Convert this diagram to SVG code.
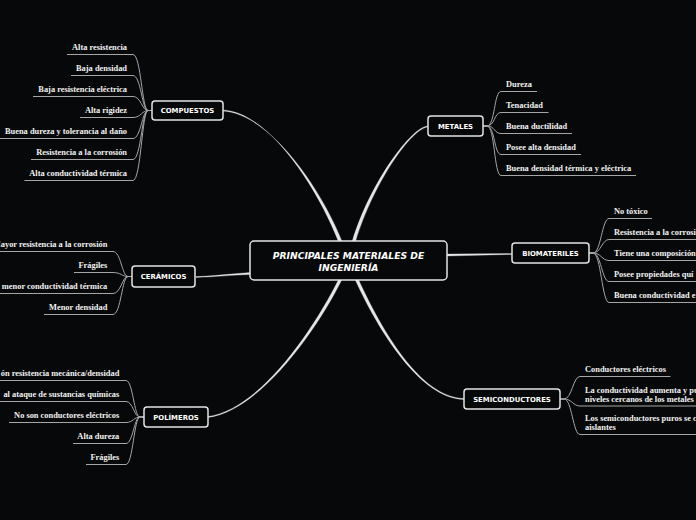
<svg xmlns="http://www.w3.org/2000/svg" width="696" height="520" viewBox="0 0 696 520">
<defs>
<style>
.bg{fill:#070809}
.box{fill:#070809;stroke:#e4e4e4;stroke-width:1.5}
.ntx{font-family:"DejaVu Sans",Verdana,sans-serif;font-weight:bold;font-size:6.9px;fill:#ffffff;text-anchor:middle}
.ctx{font-family:"DejaVu Sans",Verdana,sans-serif;font-weight:bold;font-style:italic;font-size:9.2px;fill:#ffffff;text-anchor:middle}
.lf{font-family:"Liberation Serif","Times New Roman",serif;font-weight:bold;font-size:8.4px;fill:#f2f2f2}
.r{text-anchor:end}
.ln{fill:none;stroke:#a6a6a6;stroke-width:1}
.tp{fill:#e6e6e6;stroke:#e6e6e6;stroke-width:0.3}
</style>
</defs>
<rect class="bg" x="0" y="0" width="696" height="520"/>
<g id="connectors">
<!-- main tapered connectors -->
<path class="tp" d="M223,110 C270,112.3 318.5,190.5 338.2,241 L341.8,241 C321.5,189.5 270,113.7 223,111 Z"/>
<path class="tp" d="M428,126 C412,126.3 370.5,181.5 352.3,241 L355.7,241 C373.5,182.5 412,127.7 428,127 Z"/>
<path class="tp" d="M208,416.5 C260,409.5 313.5,329.5 338.3,280 L341.7,280 C316.5,330.5 260,410.5 208,417.5 Z"/>
<path class="tp" d="M464,398.5 C420,397.5 381.5,329.5 358.7,280 L355.3,280 C378.5,330.5 420,398.5 464,399.5 Z"/>
<path class="tp" d="M196,276.6 C215,276 235,273.4 250,272.6 L250,274.6 C235,274.8 215,277 196,277.4 Z"/>
<path class="tp" d="M447,254.1 L512,253.6 L512,254.4 L447,256 Z"/>
<!-- COMPUESTOS leaves -->
<path class="ln" d="M152,110.5 L148,110.5 C142,110.5 141,54.5 133,54.5 L67,54.5"/>
<path class="ln" d="M152,110.5 L148,110.5 C142,110.5 141,75.5 133,75.5 L71,75.5"/>
<path class="ln" d="M152,110.5 L148,110.5 C142,110.5 141,96.5 133,96.5 L33,96.5"/>
<path class="ln" d="M152,110.5 L148,110.5 C142,110.5 141,117.5 133,117.5 L80,117.5"/>
<path class="ln" d="M152,110.5 L148,110.5 C142,110.5 141,138.5 133,138.5 L0,138.5"/>
<path class="ln" d="M152,110.5 L148,110.5 C142,110.5 141,159.5 133,159.5 L31,159.5"/>
<path class="ln" d="M152,110.5 L148,110.5 C142,110.5 141,180.5 133,180.5 L24.5,180.5"/>
<!-- CERAMICOS leaves -->
<path class="ln" d="M132,276.5 L128,276.5 C122,276.5 121,251.5 113,251.5 L0,251.5"/>
<path class="ln" d="M132,276.5 L128,276.5 C122,276.5 121,272.5 113,272.5 L74,272.5"/>
<path class="ln" d="M132,276.5 L128,276.5 C122,276.5 121,293.5 113,293.5 L0,293.5"/>
<path class="ln" d="M132,276.5 L128,276.5 C122,276.5 121,314.5 113,314.5 L44,314.5"/>
<!-- POLIMEROS leaves -->
<path class="ln" d="M144,417 L140,417 C134,417 133,380.5 126,380.5 L0,380.5"/>
<path class="ln" d="M144,417 L140,417 C134,417 133,401.5 126,401.5 L0,401.5"/>
<path class="ln" d="M144,417 L140,417 C134,417 133,422.5 126,422.5 L9,422.5"/>
<path class="ln" d="M144,417 L140,417 C134,417 133,443.5 126,443.5 L73,443.5"/>
<path class="ln" d="M144,417 L140,417 C134,417 133,464.5 126,464.5 L86,464.5"/>
<!-- METALES leaves -->
<path class="ln" d="M483,126 L487,126 C495,126 494,91.5 501,91.5 L537,91.5"/>
<path class="ln" d="M483,126 L487,126 C495,126 494,112.5 501,112.5 L548.5,112.5"/>
<path class="ln" d="M483,126 L487,126 C495,126 494,133.5 501,133.5 L572,133.5"/>
<path class="ln" d="M483,126 L487,126 C495,126 494,154.5 501,154.5 L581,154.5"/>
<path class="ln" d="M483,126 L487,126 C495,126 494,175.5 501,175.5 L636,175.5"/>
<!-- BIOMATERILES leaves -->
<path class="ln" d="M589,253 L593,253 C601,253 602,218.5 609,218.5 L652,218.5"/>
<path class="ln" d="M589,253 L593,253 C601,253 602,239.5 609,239.5 L700,239.5"/>
<path class="ln" d="M589,253 L593,253 C601,253 602,260.5 609,260.5 L700,260.5"/>
<path class="ln" d="M589,253 L593,253 C601,253 602,281.5 609,281.5 L700,281.5"/>
<path class="ln" d="M589,253 L593,253 C601,253 602,302.5 609,302.5 L700,302.5"/>
<!-- SEMICONDUCTORES leaves -->
<path class="ln" d="M560,399 L564,399 C572,399 573,376.5 580,376.5 L670.5,376.5"/>
<path class="ln" d="M560,399 L564,399 C572,399 573,406 580,406 L700,406"/>
<path class="ln" d="M560,399 L564,399 C572,399 573,434.5 580,434.5 L700,434.5"/>
</g>
<g id="central">
<rect class="box" x="250" y="241" width="197" height="39" rx="4"/>
<text class="ctx" x="348.5" y="259">PRINCIPALES MATERIALES DE</text>
<text class="ctx" x="348.5" y="270.5">INGENIERÍA</text>
</g>
<g id="compuestos">
<rect class="box" x="152" y="101" width="71" height="19" rx="3"/>
<text class="ntx" x="187.5" y="113">COMPUESTOS</text>
<text class="lf r" x="127" y="50">Alta resistencia</text>
<text class="lf r" x="127" y="71">Baja densidad</text>
<text class="lf r" x="127" y="92">Baja resistencia eléctrica</text>
<text class="lf r" x="127" y="113">Alta rigidez</text>
<text class="lf r" x="127" y="134">Buena dureza y tolerancia al daño</text>
<text class="lf r" x="127" y="155">Resistencia a la corrosión</text>
<text class="lf r" x="127" y="176">Alta conductividad térmica</text>
</g>
<g id="ceramicos">
<rect class="box" x="132" y="266" width="63" height="21" rx="3"/>
<text class="ntx" x="163.5" y="279">CERÁMICOS</text>
<text class="lf r" x="107.3" y="247">Mayor resistencia a la corrosión</text>
<text class="lf r" x="107.3" y="268">Frágiles</text>
<text class="lf r" x="107.3" y="289">menor conductividad térmica</text>
<text class="lf r" x="107.3" y="310">Menor densidad</text>
</g>
<g id="polimeros">
<rect class="box" x="144" y="407" width="64" height="20" rx="3"/>
<text class="ntx" x="176" y="419.5">POLÍMEROS</text>
<text class="lf r" x="119.3" y="376">ón resistencia mecánica/densidad</text>
<text class="lf r" x="119.3" y="397">al ataque de sustancias químicas</text>
<text class="lf r" x="119.3" y="418">No son conductores eléctricos</text>
<text class="lf r" x="119.3" y="439">Alta dureza</text>
<text class="lf r" x="119.3" y="460">Frágiles</text>
</g>
<g id="metales">
<rect class="box" x="428" y="116" width="55" height="20" rx="3"/>
<text class="ntx" x="455.5" y="128.5">METALES</text>
<text class="lf" x="506" y="87">Dureza</text>
<text class="lf" x="506" y="108">Tenacidad</text>
<text class="lf" x="506" y="129">Buena ductilidad</text>
<text class="lf" x="506" y="150">Posee alta densidad</text>
<text class="lf" x="506" y="171">Buena densidad térmica y eléctrica</text>
</g>
<g id="biomateriles">
<rect class="box" x="512" y="243" width="77" height="20" rx="3"/>
<text class="ntx" x="550.5" y="255.5">BIOMATERILES</text>
<text class="lf" x="614" y="214">No tóxico</text>
<text class="lf" x="614" y="235">Resistencia a la corrosión</text>
<text class="lf" x="614" y="256">Tiene una composición</text>
<text class="lf" x="614" y="277">Posee propiedades quí</text>
<text class="lf" x="614" y="298">Buena conductividad e</text>
</g>
<g id="semiconductores">
<rect class="box" x="464" y="389" width="96" height="20" rx="3"/>
<text class="ntx" x="512" y="401.5">SEMICONDUCTORES</text>
<text class="lf" x="585" y="372">Conductores eléctricos</text>
<text class="lf" x="585" y="392.5">La conductividad aumenta y pu</text>
<text class="lf" x="585" y="401.5">niveles cercanos de los metales</text>
<text class="lf" x="585" y="421">Los semiconductores puros se c</text>
<text class="lf" x="585" y="430">aislantes</text>
</g>
</svg>
